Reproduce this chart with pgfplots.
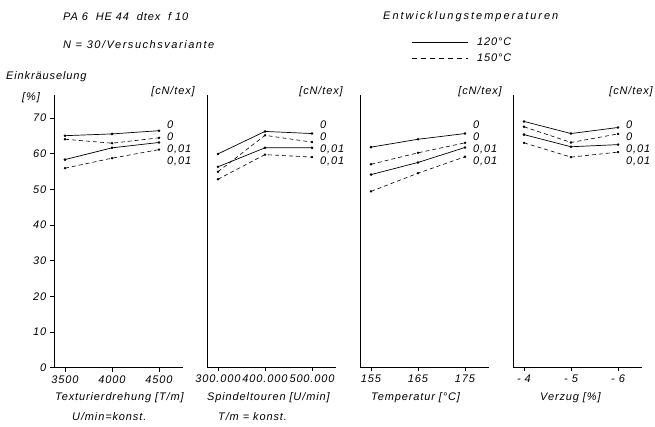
\documentclass[border=0pt]{standalone}
\usepackage{fontspec}
\setmainfont{Liberation Sans}[LetterSpace=8]
\usepackage{pgfplots}
\pgfplotsset{compat=1.18}
\begin{document}
\fontsize{11pt}{13pt}\selectfont\itshape
\begin{tikzpicture}
\useasboundingbox (0pt,0pt) rectangle (655pt,426pt);
\tikzset{lab/.style={anchor=west, inner sep=0pt, font=\fontsize{11pt}{13pt}\selectfont\itshape}}
\pgfplotsset{
  panel/.style={
    scale only axis, width=129pt, height=272.7pt,
    xmin=-0.234, xmax=2.51, ymin=0, ymax=76.4,
    axis x line=bottom, axis y line=left,
    axis line style={-, line width=0.7pt},
    xtick={0,1,2}, tick align=outside, major tick length=3pt,
    ytick=\empty,
    tick style={black, line width=0.5pt},
    every tick label/.append style={font=\fontsize{11pt}{13pt}\selectfont\itshape},
    clip=false, anchor=south west,
  },
  s/.style={black, line width=0.7pt, mark=*, mark size=0.9pt, mark options={solid}},
  d/.style={black, line width=0.6pt, dash pattern=on 4pt off 3pt, mark=*, mark size=0.9pt, mark options={solid}},
}
% Panel 1
\begin{axis}[panel, at={(54pt,58.3pt)}, xticklabels={3500,4000,4500},
  ytick={0,10,20,30,40,50,60,70}, yticklabels={0,10,20,30,40,50,60,70}, major tick length=4pt]
\addplot[s] coordinates {(0,65.0) (1,65.5) (2,66.4)};
\addplot[d] coordinates {(0,64.0) (1,62.9) (2,64.4)};
\addplot[s] coordinates {(0,58.3) (1,61.6) (2,63.1)};
\addplot[d] coordinates {(0,55.9) (1,58.7) (2,61.1)};
\node[lab] at (axis cs:2.17,68.2) {0};
\node[lab] at (axis cs:2.17,64.6) {0};
\node[lab] at (axis cs:2.17,61.2) {0,01};
\node[lab] at (axis cs:2.17,57.9) {0,01};
\end{axis}
% Panel 2
\begin{axis}[panel, at={(207pt,58.3pt)}, xticklabels={300.000,400.000,500.000}]
\addplot[s] coordinates {(0,59.9) (1,66.2) (2,65.6)};
\addplot[d] coordinates {(0,54.9) (1,65.1) (2,63.2)};
\addplot[s] coordinates {(0,56.3) (1,61.6) (2,61.6)};
\addplot[d] coordinates {(0,52.8) (1,59.7) (2,59.0)};
\node[lab] at (axis cs:2.17,68.2) {0};
\node[lab] at (axis cs:2.17,64.6) {0};
\node[lab] at (axis cs:2.17,61.2) {0,01};
\node[lab] at (axis cs:2.17,57.9) {0,01};
\end{axis}
% Panel 3
\begin{axis}[panel, at={(360pt,58.3pt)}, xticklabels={155,165,175}]
\addplot[s] coordinates {(0,61.8) (1,64.0) (2,65.6)};
\addplot[d] coordinates {(0,57.0) (1,60.2) (2,63.0)};
\addplot[s] coordinates {(0,54.1) (1,57.5) (2,61.7)};
\addplot[d] coordinates {(0,49.4) (1,54.5) (2,59.1)};
\node[lab] at (axis cs:2.17,68.2) {0};
\node[lab] at (axis cs:2.17,64.6) {0};
\node[lab] at (axis cs:2.17,61.2) {0,01};
\node[lab] at (axis cs:2.17,57.9) {0,01};
\end{axis}
% Panel 4
\begin{axis}[panel, at={(513pt,58.3pt)}, xticklabels={- 4,- 5,- 6}]
\addplot[s] coordinates {(0,69.0) (1,65.6) (2,67.3)};
\addplot[d] coordinates {(0,67.5) (1,63.1) (2,65.5)};
\addplot[s] coordinates {(0,65.3) (1,61.9) (2,62.5)};
\addplot[d] coordinates {(0,63.0) (1,59.0) (2,60.4)};
\node[lab] at (axis cs:2.17,68.2) {0};
\node[lab] at (axis cs:2.17,64.6) {0};
\node[lab] at (axis cs:2.17,61.2) {0,01};
\node[lab] at (axis cs:2.17,57.9) {0,01};
\end{axis}
% Header texts
\node[lab] at (63pt,409pt) {PA 6\ \ HE\ 44\ \ dtex\ \ f\ 10};
\node[lab] at (63pt,381pt) {\addfontfeature{LetterSpace=14}N = 30/Versuchsvariante};
\node[lab] at (383pt,409pt) {\addfontfeature{LetterSpace=18}Entwicklungstemperaturen};
\draw[line width=0.7pt] (412pt,384pt) -- (468pt,384pt);
\node[lab] at (477pt,384pt) {120°C};
\draw[line width=0.6pt, dash pattern=on 5pt off 4pt] (412pt,368pt) -- (468pt,368pt);
\node[lab] at (477pt,368pt) {150°C};
\node[lab] at (6pt,349pt) {Einkräuselung};
\node[lab] at (22pt,328pt) {[\%]};
\node[anchor=east, inner sep=0pt] at (195pt,334pt) {[cN/tex]};
\node[anchor=east, inner sep=0pt] at (343pt,334pt) {[cN/tex]};
\node[anchor=east, inner sep=0pt] at (502pt,334pt) {[cN/tex]};
\node[anchor=east, inner sep=0pt] at (653pt,334pt) {[cN/tex]};
% x labels
\node[lab] at (55pt,28pt) {Texturierdrehung [T/m]};
\node[lab] at (72pt,9pt) {U/min=konst.};
\node[lab] at (207pt,28pt) {Spindeltouren [U/min]};
\node[lab] at (218pt,9pt) {T/m = konst.};
\node[lab] at (371pt,28pt) {Temperatur [°C]};
\node[lab] at (540pt,28pt) {Verzug [\%]};
\end{tikzpicture}
\end{document}
